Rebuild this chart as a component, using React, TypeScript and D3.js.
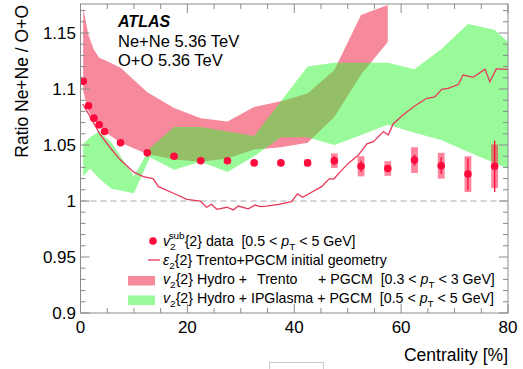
import React from "react";
import * as d3 from "d3";

// ---- data ----
const centrality = [0.5, 1.5, 2.5, 3.5, 4.5, 7.5, 12.5, 17.5, 22.5, 27.5, 32.5, 37.5, 42.5, 47.5, 52.5, 57.5, 62.5, 67.5, 72.5, 77.5];
const ratio = [1.107, 1.085, 1.074, 1.068, 1.062, 1.052, 1.043, 1.040, 1.036, 1.036, 1.034, 1.034, 1.034, 1.036, 1.031, 1.029, 1.0365, 1.0315, 1.024, 1.031];
const statErr = [0.001, 0.001, 0.001, 0.001, 0.001, 0.001, 0.001, 0.001, 0.001, 0.001, 0.001, 0.001, 0.002, 0.004, 0.005, 0.003, 0.005, 0.0075, 0.014, 0.023];
const systErr = [0.002, 0.002, 0.002, 0.002, 0.002, 0.002, 0.002, 0.002, 0.002, 0.002, 0.002, 0.002, 0.003, 0.0065, 0.009, 0.0065, 0.0115, 0.0115, 0.016, 0.0195];

// epsilon_2{2} Trento+PGCM initial geometry
const epsX = [0.4, 1.8, 3.6, 5.5, 7.4, 9.9, 11.75, 13.6, 14.6, 17.4, 19.9, 22.4, 23.6, 24.5, 25.5, 27.4, 28.6, 29.5, 31.4, 32.7, 33.6, 34.8, 37.3, 39.5, 40.6, 41.6, 42.9, 45.1, 46.6, 47.4, 48.6, 50.1, 52.0, 53.6, 54.8, 56.7, 57.6, 58.5, 60.4, 62.6, 64.8, 66.3, 67.6, 68.8, 70.7, 71.6, 73.5, 75.7, 76.6, 77.8, 80];
const epsY = [1.0866, 1.0753, 1.060, 1.048, 1.037, 1.026, 1.0217, 1.020, 1.0128, 1.0069, 1.0015, 1.0, 0.9944, 0.997, 0.9926, 0.9944, 0.992, 0.9955, 0.993, 0.9964, 0.995, 0.9955, 0.9973, 0.9994, 1.0063, 1.0033, 1.0069, 1.0128, 1.020, 1.0196, 1.026, 1.0336, 1.041, 1.051, 1.053, 1.062, 1.059, 1.0688, 1.077, 1.085, 1.0917, 1.093, 1.0997, 1.1006, 1.104, 1.1125, 1.1104, 1.1176, 1.1065, 1.118, 1.1176];

// Hydro + Trento + PGCM band
const trentoX = [0.5, 1.5, 2.5, 3.5, 4.5, 7.5, 12.5, 17.5, 22.5, 27.5, 32.5, 37.5, 42.5, 47.5, 52.5, 57.5];
const trentoLow = [1.098, 1.08, 1.072, 1.067, 1.062, 1.052, 1.042, 1.037, 1.035, 1.038, 1.046, 1.048, 1.052, 1.075, 1.113, 1.142];
const trentoHigh = [1.172, 1.148, 1.135, 1.128, 1.126, 1.119, 1.097, 1.083, 1.074, 1.071, 1.084, 1.089, 1.096, 1.117, 1.166, 1.175];

// Hydro + IPGlasma + PGCM band
const glasmaX = [0.5, 1.8, 3.5, 5.8, 10, 13, 17.5, 22.5, 27.5, 32.5, 37.5, 42.5, 47.5, 52.5, 57.5, 62.5, 67.5, 72.5, 77.5, 80];
const glasmaLow = [1.022, 1.029, 1.02, 1.011, 1.007, 1.039, 1.028, 1.035, 1.026, 1.040, 1.057, 1.057, 1.050, 1.059, 1.068, 1.061, 1.0545, 1.044, 1.034, 1.029];
const glasmaHigh = [1.051, 1.057, 1.062, 1.052, 1.022, 1.047, 1.066, 1.066, 1.062, 1.058, 1.089, 1.12, 1.1235, 1.1235, 1.1235, 1.1176, 1.1355, 1.158, 1.153, 1.142];

const xTickLabels = [0, 20, 40, 60, 80];
const yTickLabels = ["0.9", "0.95", "1", "1.05", "1.1", "1.15"];
const yTickValues = [0.9, 0.95, 1.0, 1.05, 1.1, 1.15];

const FONT = "'Liberation Sans', Arial, Helvetica, sans-serif";

export default function App() {
  const W = 523, H = 369;
  const L = 80.5, R = 508, T = 4, B = 313;
  const x = d3.scaleLinear().domain([0, 80]).range([L, R]);
  const y = d3.scaleLinear().domain([0.9, 1.1759]).range([B, T]);

  const bandPath = (xs: number[], lo: number[], hi: number[]) =>
    d3.area<number>()
      .x((d, i) => x(xs[i]))
      .y0((d, i) => y(lo[i]))
      .y1((d, i) => y(hi[i]))(xs) as string;

  const epsLine = d3.line<number>()
    .x((d, i) => x(epsX[i]))
    .y((d, i) => y(epsY[i]))(epsX) as string;

  const xMinor = d3.range(0, 80.01, 5);
  const yMinor = d3.range(0, 28).map((i) => 0.9 + i * 0.01).filter((v) => v <= 1.1759);

  const frameColor = "#8a8a8a";
  const pinkFill = "rgb(240,20,60)";
  const greenFill = "rgb(50,245,50)";
  const red = "#ff0a3c";
  const lineColor = "#e8385c";

  const legX = 163;
  const rows = [246, 265, 284, 303];
  const fs = 14.2;
  const pre = { whiteSpace: "pre" as const };

  return (
    <svg width={W} height={H} style={{ position: "absolute", left: 0, top: 0 }} fontFamily={FONT}>
      <rect x={0} y={0} width={W} height={H} fill="#fff" />
      <defs>
        <clipPath id="plotclip">
          <rect x={L} y={T} width={R - L} height={B - T} />
        </clipPath>
      </defs>

      <g clipPath="url(#plotclip)">
        <path d={bandPath(trentoX, trentoLow, trentoHigh)} fill={pinkFill} fillOpacity={0.5} />
        <path d={bandPath(glasmaX, glasmaLow, glasmaHigh)} fill={greenFill} fillOpacity={0.5} />
        <line x1={L} x2={R} y1={y(1)} y2={y(1)} stroke="#aaa" strokeWidth={1} strokeDasharray="6,4" />
        <path d={epsLine} fill="none" stroke={lineColor} strokeWidth={1.3} />
        {centrality.map((c, i) => (
          <g key={i}>
            <rect x={x(c) - 3.4} width={6.8} y={y(ratio[i] + systErr[i])} height={y(ratio[i] - systErr[i]) - y(ratio[i] + systErr[i])} fill={red} fillOpacity={0.5} />
            <line x1={x(c)} x2={x(c)} y1={y(ratio[i] + statErr[i])} y2={y(ratio[i] - statErr[i])} stroke={red} strokeWidth={1.3} />
            <circle cx={x(c)} cy={y(ratio[i])} r={3.8} fill={red} />
          </g>
        ))}
      </g>

      {/* frame */}
      <rect x={L} y={T} width={R - L} height={B - T} fill="none" stroke={frameColor} strokeWidth={1} />

      {/* ticks */}
      {xMinor.map((v) => {
        const major = v % 20 === 0;
        const len = major ? 9 : 5;
        return (
          <g key={"xt" + v}>
            <line x1={x(v)} x2={x(v)} y1={B} y2={B - len} stroke={frameColor} />
            <line x1={x(v)} x2={x(v)} y1={T} y2={T + len} stroke={frameColor} />
          </g>
        );
      })}
      {yMinor.map((v, i) => {
        const major = i % 5 === 0;
        const len = major ? 9 : 5;
        return (
          <g key={"yt" + i}>
            <line x1={L} x2={L + len} y1={y(v)} y2={y(v)} stroke={frameColor} />
            <line x1={R} x2={R - len} y1={y(v)} y2={y(v)} stroke={frameColor} />
          </g>
        );
      })}

      {/* tick labels */}
      {xTickLabels.map((v) => (
        <text key={"xl" + v} x={x(v)} y={333} fontSize={17} textAnchor="middle" fill="#000">{v}</text>
      ))}
      {yTickValues.map((v, i) => (
        <text key={"yl" + i} x={76} y={y(v) + 6} fontSize={17} textAnchor="end" fill="#000">{yTickLabels[i]}</text>
      ))}

      {/* axis titles */}
      <text x={R} y={361} fontSize={17.5} textAnchor="end" fill="#000">Centrality [%]</text>
      <text transform={`translate(28,${T + 1}) rotate(-90)`} fontSize={17.5} textAnchor="end" fill="#000">Ratio Ne+Ne / O+O</text>

      {/* labels */}
      <text x={118} y={27} fontSize={16} fontWeight="bold" fontStyle="italic" fill="#000">ATLAS</text>
      <text x={118} y={47} fontSize={16.5} fill="#000">Ne+Ne 5.36 TeV</text>
      <text x={118} y={66} fontSize={16.5} fill="#000">O+O 5.36 TeV</text>

      {/* legend */}
      <circle cx={153} cy={241} r={3.8} fill={red} />
      <text x={legX} y={rows[0]} fontSize={fs} fill="#000" style={pre}>
        <tspan fontStyle="italic">v</tspan>
        <tspan fontSize={fs * 0.7} dy={4}>2</tspan>
        <tspan fontSize={fs * 0.7} dx={-7} dy={-11}>sub</tspan>
        <tspan dy={7}>{"{2} data  [0.5 < "}</tspan>
        <tspan fontStyle="italic">p</tspan>
        <tspan fontSize={fs * 0.7} dy={4}>T</tspan>
        <tspan dy={-4}>{" < 5 GeV]"}</tspan>
      </text>

      <line x1={148} x2={160} y1={260} y2={260} stroke={lineColor} strokeWidth={1.3} />
      <text x={legX} y={rows[1]} fontSize={fs} fill="#000" style={pre}>
        <tspan fontStyle="italic">ε</tspan>
        <tspan fontSize={fs * 0.7} dy={4}>2</tspan>
        <tspan dy={-4}>{"{2} Trento+PGCM initial geometry"}</tspan>
      </text>

      <rect x={128} y={276} width={27} height={9.5} fill={pinkFill} fillOpacity={0.5} />
      <text x={legX} y={rows[2]} fontSize={fs} fill="#000" style={pre}>
        <tspan fontStyle="italic">v</tspan>
        <tspan fontSize={fs * 0.7} dy={4}>2</tspan>
        <tspan dy={-4}>{"{2} Hydro +"}</tspan>
        <tspan x={257}>Trento</tspan>
        <tspan x={318}>{"+ PGCM  [0.3 < "}</tspan>
        <tspan fontStyle="italic">p</tspan>
        <tspan fontSize={fs * 0.7} dy={4}>T</tspan>
        <tspan dy={-4}>{" < 3 GeV]"}</tspan>
      </text>

      <rect x={128} y={295.5} width={27} height={9.5} fill={greenFill} fillOpacity={0.5} />
      <text x={legX} y={rows[3]} fontSize={fs} fill="#000" style={pre}>
        <tspan fontStyle="italic">v</tspan>
        <tspan fontSize={fs * 0.7} dy={4}>2</tspan>
        <tspan dy={-4}>{"{2} Hydro + IPGlasma + PGCM  [0.5 < "}</tspan>
        <tspan fontStyle="italic">p</tspan>
        <tspan fontSize={fs * 0.7} dy={4}>T</tspan>
        <tspan dy={-4}>{" < 5 GeV]"}</tspan>
      </text>

      {/* small box at bottom */}
      <rect x={269.5} y={362.5} width={54} height={10} fill="#fff" stroke="#c8c8c8" strokeWidth={1} />
    </svg>
  );
}
